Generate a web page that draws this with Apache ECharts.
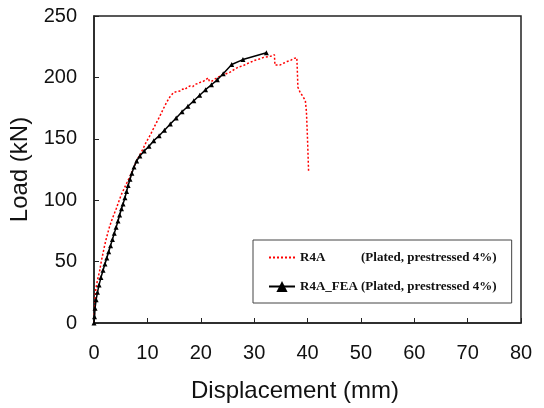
<!DOCTYPE html>
<html>
<head>
<meta charset="utf-8">
<script src="https://cdn.jsdelivr.net/npm/echarts@6/dist/echarts.min.js"></script>
<style>html,body{margin:0;padding:0;background:#fff}#c{width:544px;height:408px}</style>
</head>
<body>
<div id="c"></div>
<script>
// Experimental test R4A (displacement mm, load kN)
var r4aX = [0,0.1,0.2,0.35,0.63,0.85,1.06,1.38,1.65,1.9,2.2,2.5,2.85,3.25,3.7,4.2,4.65,5.1,5.65,6.25,6.75,7.4,8.0,8.6,9.2,9.8,10.5,11.1,11.8,12.4,13.0,13.6,14.2,14.9,15.5,16.1,16.6,17.0,17.5,18.0,18.5,19.0,19.5,19.9,20.4,20.9,21.4,21.6,22.1,22.8,23.6,24.5,25.5,26.3,27.1,27.9,28.6,29.4,30.2,31.0,31.8,32.6,33.3,33.8,33.9,34.2,34.8,35.5,36.2,36.9,37.5,38.0,38.1,38.2,38.6,39.2,39.6,39.8,40.0,40.2];
var r4aY = [0,10,20,28,34.4,38.5,42.5,50.5,56,61.3,67,72,77.5,82.8,88,93.5,99,104.3,109.5,115,119.5,126,132.5,137,142,147.5,152.7,158,164,169,174.5,179.6,184,187.6,188.5,189,190.5,190,192,193,192.5,194.5,195,196,196.5,198,199.7,197,197,199,201,202.5,204.3,206.5,208.5,209.5,211,212.5,214,215,216.3,216.8,217.5,218.5,210,209,210,211.5,213,214,215.5,216,205,192,188,184,181,172,150,124];
// FEA model R4A_FEA
var feaX = [0,0.1,0.2,0.4,0.65,0.95,1.3,1.7,2.05,2.4,2.75,3.1,3.45,3.8,4.15,4.5,4.8,5.15,5.45,5.8,6.1,6.4,6.75,7.1,7.5,8.0,8.6,9.4,10.3,11.2,12.2,13.2,14.3,15.4,16.5,17.6,18.7,19.8,20.9,22.0,23.1,24.2,25.8,27.9,32.3];
var feaY = [0,5,12,19,25,31,37,43,48,53,58,63,68,73,78,83,88,93,97,102,107,112,117,122,127,132,136,140,144,148.5,152.5,157,162,167,172,176.5,181,185.5,190,194,198,203,210.5,214.5,220];
var seriesNames = ['R4A','R4A_FEA'];
var seriesNotes = ['(Plated, prestressed 4%)','(Plated, prestressed 4%)'];
var xTitle = 'Displacement (mm)';
var yTitle = 'Load (kN)';

function zip(a,b){var o=[];for(var i=0;i<a.length;i++)o.push([a[i],b[i]]);return o;}

var chart = echarts.init(document.getElementById('c'), null, {renderer:'canvas'});
chart.setOption({
  animation:false,
  backgroundColor:'#fff',
  grid:{left:94,right:23,top:16,bottom:82,show:true,borderColor:'#222',borderWidth:1.5,backgroundColor:'transparent'},
  xAxis:{type:'value',min:0,max:80,interval:10,
    name:xTitle,nameLocation:'middle',nameGap:56,
    nameTextStyle:{fontFamily:'Liberation Sans',fontSize:24,color:'#111',padding:[0,25,0,0]},
    axisLine:{show:true,onZero:false,lineStyle:{color:'#222',width:1.5}},
    axisTick:{show:true,inside:true,length:5,lineStyle:{color:'#222'}},
    axisLabel:{fontFamily:'Liberation Sans',fontSize:20,color:'#111',margin:20},
    splitLine:{show:false}},
  yAxis:{type:'value',min:0,max:250,interval:50,
    name:yTitle,nameLocation:'middle',nameGap:58,
    nameTextStyle:{fontFamily:'Liberation Sans',fontSize:24,color:'#111'},
    axisLine:{show:true,onZero:false,lineStyle:{color:'#222',width:1.5}},
    axisTick:{show:true,inside:true,length:5,lineStyle:{color:'#222'}},
    axisLabel:{fontFamily:'Liberation Sans',fontSize:20,color:'#111',margin:17},
    splitLine:{show:false}},
  legend:{orient:'vertical',left:253,top:240,
    padding:[11,15,10,15],itemGap:16,itemWidth:26,itemHeight:14,
    borderColor:'#444',borderWidth:1,backgroundColor:'#fff',
    data:[{name:seriesNames[0],itemStyle:{opacity:0}},{name:seriesNames[1]}],
    formatter:function(n){var i=seriesNames.indexOf(n);return (i===0?'{a|':'{c|')+n+(i===0?'}':' }')+'{b|'+seriesNotes[i]+'}';},
    textStyle:{fontFamily:'Liberation Serif',fontWeight:'bold',fontSize:13,color:'#111',
      rich:{a:{width:61,fontFamily:'Liberation Serif',fontWeight:'bold',fontSize:13,color:'#111'},
            c:{fontFamily:'Liberation Serif',fontWeight:'bold',fontSize:13,color:'#111'},
            b:{fontFamily:'Liberation Serif',fontWeight:'bold',fontSize:13,color:'#111'}}}},
  series:[
    {name:seriesNames[0],type:'line',data:zip(r4aX,r4aY),symbol:'none',showSymbol:false,
     lineStyle:{color:'#ff0000',width:1.5,type:[2,2]},itemStyle:{color:'#ff0000'},z:2},
    {name:seriesNames[1],type:'line',data:zip(feaX,feaY),symbol:'triangle',symbolSize:5,showSymbol:true,
     lineStyle:{color:'#000',width:1.5},itemStyle:{color:'#000'},z:3}
  ]
});
</script>
</body>
</html>
